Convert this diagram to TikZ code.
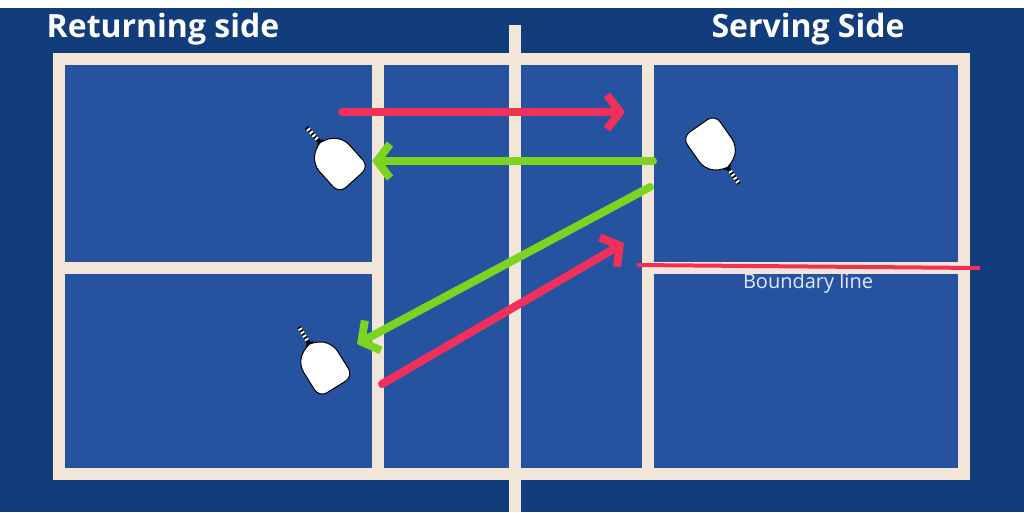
\documentclass[tikz,border=0pt]{standalone}
\usepackage{fontspec}
\setmainfont{Open Sans}
\usetikzlibrary{arrows.meta}
\definecolor{navy}{HTML}{123D7C}
\definecolor{courtblue}{HTML}{2553A0}
\definecolor{cream}{HTML}{F2E6D8}
\definecolor{redarr}{HTML}{F0305A}
\definecolor{greenarr}{HTML}{7ED321}
\tikzset{
 cline/.style={cream, line width=12pt},
 arr/.style={line width=8pt, line cap=round, -{Straight Barb[length=13pt,width=34pt,line width=8pt]}},
 redarrow/.style={arr, redarr},
 greenarrow/.style={arr, greenarr},
 title/.style={text=white, font=\fontsize{32}{34}\selectfont\bfseries},
 paddle/.pic={
   \draw[black, line width=4pt] (0,20)--(0,44);
   \draw[white, line width=4pt, dash pattern=on 2pt off 2pt] (0,28)--(0,44);
   \draw[black, line width=1pt, fill=white, rounded corners=9pt] (-20,-27)--(20,-27)--(20,12)--(5,24)--(-5,24)--(-20,12)--cycle;
 }
}
\begin{document}
\begin{tikzpicture}[x=1pt,y=-1pt]
\useasboundingbox (0,0) rectangle (1024,512);
\fill[white] (0,0) rectangle (1024,8);
\fill[navy] (0,8) rectangle (1024,512);
\fill[courtblue] (59,59) rectangle (964,474);
\draw[cline] (59,59) rectangle (964,474);
\draw[cline] (378,59) -- (378,474);
\draw[cline] (648,59) -- (648,474);
\draw[cline] (59,268) -- (378,268);
\draw[cline] (648,268) -- (964,268);
\draw[cline] (515,25) -- (515,512);
\node[title] (ret) at (163,29) {Returning side};
\node[title] (srv) at (808,29) {Serving Side};
\draw[redarr, line width=4pt] (637,265) -- (980,268);
\node[text=white!90!blue, font=\fontsize{20}{22}\selectfont] (bl) at (808,283) {Boundary line};
\coordinate (r1a) at (342,112); \coordinate (r1b) at (625,112);
\coordinate (g1a) at (653,161); \coordinate (g1b) at (372,161);
\coordinate (g2a) at (650,187); \coordinate (g2b) at (357,344);
\coordinate (r2a) at (382,384); \coordinate (r2b) at (624,243);
\draw[redarrow] (r1a) -- (r1b);
\draw[greenarrow] (g1a) -- (g1b);
\draw[greenarrow] (g2a) -- (g2b);
\draw[redarrow] (r2a) -- (r2b);
\pic[rotate=222] at (336,160) {paddle};
\pic[rotate=35] at (714,148) {paddle};
\pic[rotate=212] at (322,364) {paddle};
\end{tikzpicture}
\end{document}
